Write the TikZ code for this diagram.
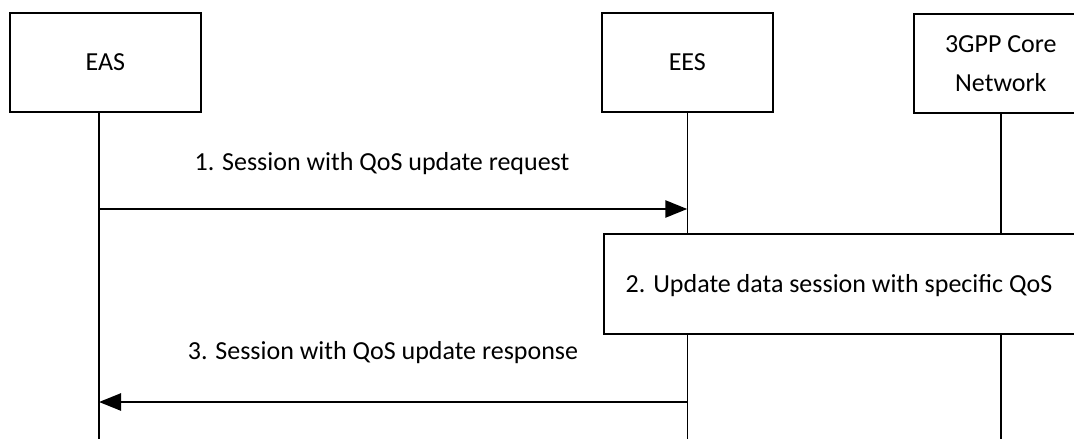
\documentclass[tikz,border=0pt]{standalone}
\usepackage{fontspec}
\setmainfont{Carlito}
\usetikzlibrary{arrows.meta, positioning}

\begin{document}
\begin{tikzpicture}[
        x=1pt, y=-1pt,
        line width=1.6pt,
        >={Triangle[length=22pt,width=17pt]},
        font=\fontsize{26}{39}\selectfont,
        entity/.style={draw, fill=white, minimum width=171pt, minimum height=99pt, align=center, anchor=north west},
        msg/.style={->, line width=2.6pt}
    ]
    \useasboundingbox (0,0) rectangle (1074,439);

    % Entities
    \node[entity, minimum width=191pt] (eas) at (9,12) {EAS};
    \node[entity] (ees) at (601,12) {EES};
    \node[entity, minimum width=174pt] (core) at (913,13) {3GPP Core\\Network};

    % Lifelines
    \coordinate (eas top) at (99,0 |- eas.south);
    \coordinate (eas end) at (eas top |- 0,445);
    \coordinate (ees end) at (ees.south |- 0,445);
    \coordinate (core end) at (core.south |- 0,445);
    \draw (eas top) -- (eas end);
    \draw (ees.south) -- (ees end);
    \draw (core.south) -- (core end);

    % Step 1
    \coordinate (req from) at (eas top |- 0,209);
    \coordinate (req to) at (ees.south |- 0,209);
    \draw[msg] (req from) -- (req to);
    \node (req) at (382,164) {1. Session with QoS update request};

    % Step 2
    \node[entity, minimum width=472pt, minimum height=100pt] (upd) at (603,233) {};
    \node (upd text) at (839,286) {2. Update data session with specific QoS};

    % Step 3
    \coordinate (rsp from) at (ees.south |- 0,402);
    \coordinate (rsp to) at (eas top |- 0,402);
    \draw[msg] (rsp from) -- (rsp to);
    \node (rsp) at (383,353) {3. Session with QoS update response};

\end{tikzpicture}
\end{document}
